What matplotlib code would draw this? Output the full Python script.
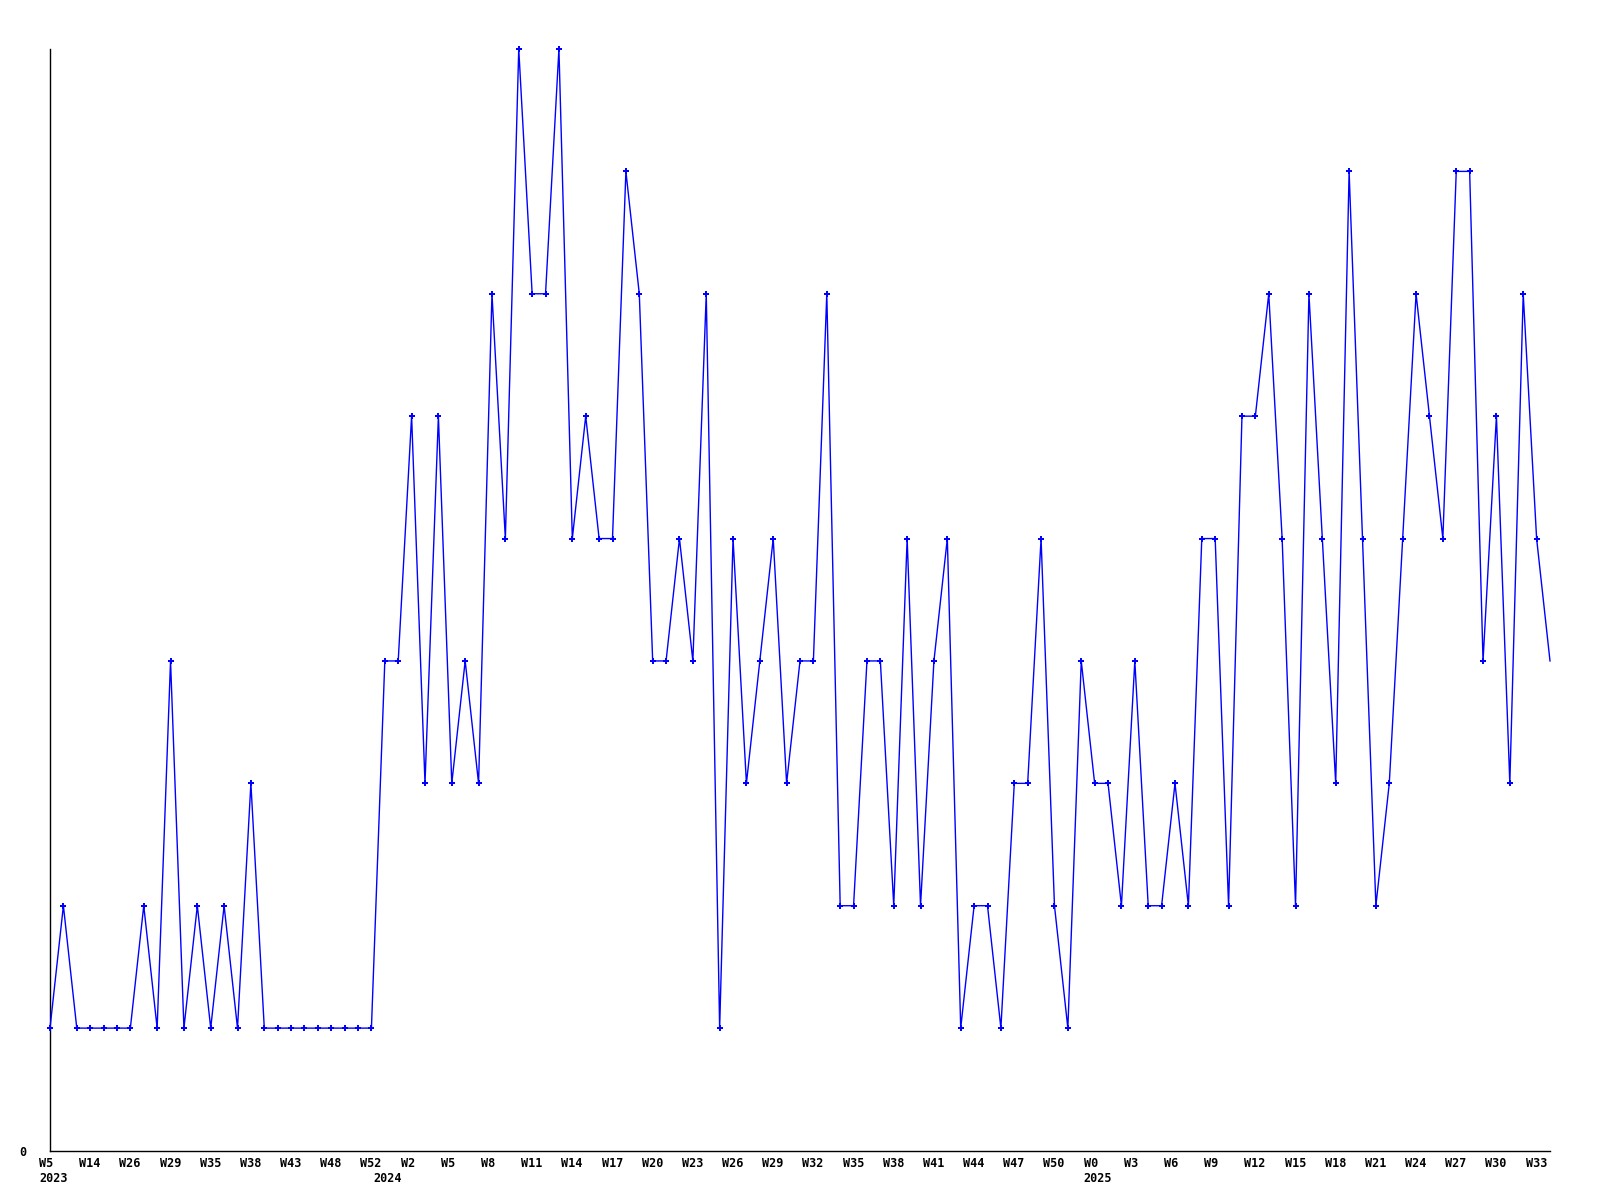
import numpy as np
import matplotlib
matplotlib.use('Agg')
import matplotlib.pyplot as plt

# weekly counts, one value per point
values = [1, 2, 1, 1, 1, 1, 1, 2, 1, 4,
          1, 2, 1, 2, 1, 3, 1, 1, 1, 1,
          1, 1, 1, 1, 1, 4, 4, 6, 3, 6,
          3, 4, 3, 7, 5, 9, 7, 7, 9, 5,
          6, 5, 5, 8, 7, 4, 4, 5, 4, 7,
          1, 5, 3, 4, 5, 3, 4, 4, 7, 2,
          2, 4, 4, 2, 5, 2, 4, 5, 1, 2,
          2, 1, 3, 3, 5, 2, 1, 4, 3, 3,
          2, 4, 2, 2, 3, 2, 5, 5, 2, 6,
          6, 7, 5, 2, 7, 5, 3, 8, 5, 2,
          3, 5, 7, 6, 5, 8, 8, 4, 6, 3,
          7, 5, 4]

# labels shown on every third point
week_labels = ['W5', 'W14', 'W26', 'W29', 'W35', 'W38', 'W43', 'W48', 'W52',
               'W2', 'W5', 'W8', 'W11', 'W14', 'W17', 'W20', 'W23', 'W26',
               'W29', 'W32', 'W35', 'W38', 'W41', 'W44', 'W47', 'W50',
               'W0', 'W3', 'W6', 'W9', 'W12', 'W15', 'W18', 'W21', 'W24',
               'W27', 'W30', 'W33']
label_step = 3
year_labels = ['2023', '2024', '2025']
year_points = [0, 25, 78]

x = np.arange(len(values))
font = dict(family='DejaVu Sans Mono', fontweight='bold', fontsize=8.5)

fig = plt.figure(figsize=(16, 12), dpi=100)
ax = fig.add_axes([50 / 1600, 49.5 / 1200, 1500 / 1600, 1101.5 / 1200])

ax.plot(x, values, color='#0000ff', lw=1.0, marker='P', ms=5, mew=0,
        markevery=list(range(len(values) - 1)), clip_on=False, zorder=3)

ax.set_xlim(0, len(values) - 1)
ax.set_ylim(0, 9)
for s in ['top', 'right']:
    ax.spines[s].set_visible(False)
for s in ['left', 'bottom']:
    ax.spines[s].set_linewidth(1.0)
    ax.spines[s].set_color('black')

ax.set_xticks([])
ax.set_yticks([0])
ax.set_yticklabels(['0'], **font)
ax.tick_params(axis='y', length=0, pad=17)

for i, lbl in enumerate(week_labels):
    ax.annotate(lbl, xy=(i * label_step, 0), xycoords=('data', 'axes fraction'),
                xytext=(-11, -13), textcoords='offset pixels',
                ha='left', va='center', annotation_clip=False, **font)

for yl, p in zip(year_labels, year_points):
    ax.annotate(yl, xy=(p, 0), xycoords=('data', 'axes fraction'),
                xytext=(-11, -28), textcoords='offset pixels',
                ha='left', va='center', annotation_clip=False, **font)

fig.savefig('out.png', dpi=100)
